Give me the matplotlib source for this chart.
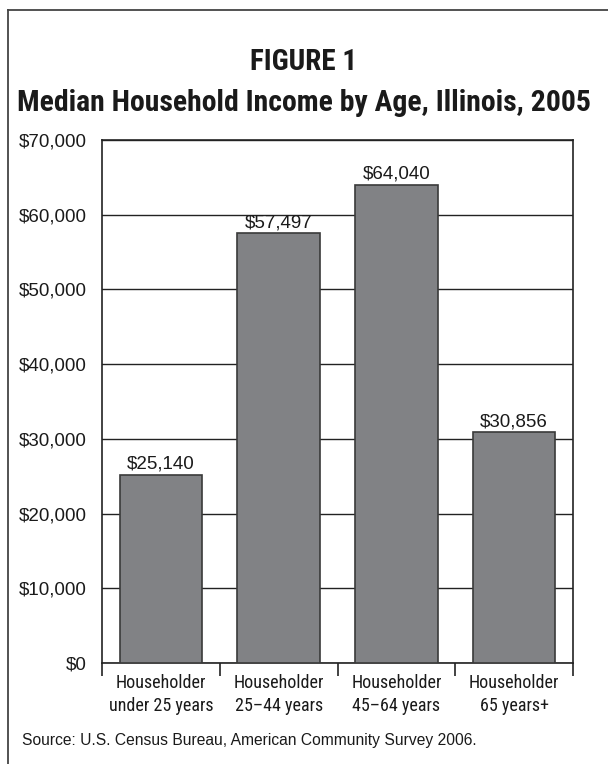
import matplotlib.pyplot as plt
from matplotlib.lines import Line2D
from matplotlib.ticker import FuncFormatter, MultipleLocator

# Data
groups = ['Householder\nunder 25 years', 'Householder\n25\u201344 years',
          'Householder\n45\u201364 years', 'Householder\n65 years+']
income = [25140, 57497, 64040, 30856]

cond = ['Roboto Condensed', 'Archivo Narrow', 'Liberation Sans Narrow', 'Roboto']
book = ['Liberation Sans', 'DejaVu Sans']
W, H = 608, 764


def fit_width(t, width_px, renderer):
    # shrink a text until it is no wider than width_px
    for _ in range(30):
        w = t.get_window_extent(renderer).width
        if w <= width_px:
            break
        t.set_fontsize(t.get_fontsize() * width_px / w * 0.995)


fig = plt.figure(figsize=(W / 100, H / 100), dpi=100)
renderer = fig.canvas.get_renderer()

# frame: top rule and left rule
fig.add_artist(Line2D([7.5 / W, 1], [1 - 10 / H, 1 - 10 / H],
                      transform=fig.transFigure, color='#444444', lw=1.3))
fig.add_artist(Line2D([7.5 / W, 7.5 / W], [0, 1 - 10 / H],
                      transform=fig.transFigure, color='#444444', lw=1.3))

t1 = fig.text(0.5, 1 - 62 / H, 'FIGURE 1', ha='center', va='center',
              fontsize=21, fontweight='bold', family=cond, color='#1a1a1a')
t2 = fig.text(0.5, 1 - 103 / H, 'Median Household Income by Age, Illinois, 2005',
              ha='center', va='center', fontsize=27, fontweight='bold',
              family=cond, color='#1a1a1a')
fit_width(t2, 578, renderer)
fit_width(t1, 116, renderer)

ax = fig.add_axes([102 / W, 1 - 663 / H, 471 / W, 523 / H])
x = range(len(income))
bars = ax.bar(x, income, width=0.7, color='#818285', edgecolor='#3a3a3a',
              lw=1.2, zorder=3)
for b, v in zip(bars, income):
    ax.text(b.get_x() + b.get_width() / 2, v + 300, f'${v:,}', ha='center',
            va='bottom', fontsize=13.5, family=book, color='#1a1a1a')

ax.set_xlim(-0.5, len(income) - 0.5)
ax.set_ylim(0, 70000)
ax.yaxis.set_major_locator(MultipleLocator(10000))
ax.yaxis.set_major_formatter(FuncFormatter(lambda v, p: f'${v:,.0f}'))
ax.grid(axis='y', color='#222222', lw=1, zorder=1)
ax.tick_params(axis='y', length=0, pad=11, labelsize=13.5, colors='#1a1a1a')
for t in ax.get_yticklabels():
    t.set_family(book)

# category labels centred, ticks between groups
ax.set_xticks(list(x))
ax.set_xticklabels(groups, family=cond, fontsize=13, color='#1a1a1a',
                   linespacing=1.35)
ax.tick_params(axis='x', length=0, pad=8)
ax.set_xticks([i - 0.5 for i in range(len(income) + 1)], minor=True)
ax.tick_params(axis='x', which='minor', length=9, width=1.2, color='#222222',
               direction='out')

for s in ax.spines.values():
    s.set_color('#222222')
    s.set_linewidth(1.2)

src = fig.text(22 / W, 1 - 740 / H,
               'Source: U.S. Census Bureau, American Community Survey 2006.',
               ha='left', va='center', fontsize=12, family=book, color='#1a1a1a')
fit_width(src, 456, renderer)

fig.savefig('out.png', dpi=100, facecolor='white')
